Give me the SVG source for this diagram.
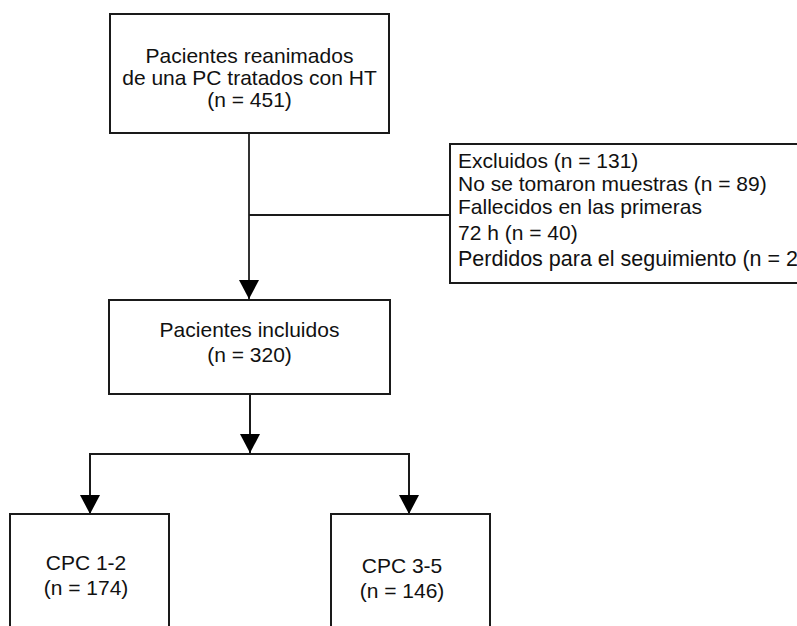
<svg xmlns="http://www.w3.org/2000/svg" width="797" height="626" viewBox="0 0 797 626">
<style>
.box{fill:#fff;stroke:#1a1a1a;stroke-width:2}
.ln{fill:none;stroke:#1a1a1a;stroke-width:2}
.t{font-family:"Liberation Sans",Arial,sans-serif;font-size:21px;fill:#111}
.c{text-anchor:middle}
</style>
<defs>
<marker id="ah" viewBox="0 0 19 20" refX="19" refY="10" markerWidth="19" markerHeight="20" markerUnits="userSpaceOnUse" orient="auto">
<path d="M0,0 L19,10 L0,20 Z" fill="#000"/>
</marker>
</defs>
<rect width="797" height="626" fill="#fff"/>
<g id="connectors">
<line class="ln" x1="249" y1="133" x2="249" y2="299" marker-end="url(#ah)" style="stroke:#333"/>
<line class="ln" x1="249" y1="215" x2="450" y2="215"/>
<line class="ln" x1="250" y1="394" x2="250" y2="453" marker-end="url(#ah)"/>
<polyline class="ln" points="90,514 90,454 409,454 409,514"/>
<line class="ln" x1="90" y1="454" x2="90" y2="514" marker-end="url(#ah)"/>
<line class="ln" x1="409" y1="454" x2="409" y2="514" marker-end="url(#ah)"/>
</g>
<g id="n_start">
<rect class="box" x="110" y="14" width="279" height="119"/>
<text class="t c" x="249.5" y="63">Pacientes reanimados</text>
<text class="t c" x="249.5" y="85">de una PC tratados con HT</text>
<text class="t c" x="249.5" y="107">(n = 451)</text>
</g>
<g id="n_excluded">
<rect class="box" x="450" y="144" width="360" height="139"/>
<text class="t" x="458" y="168">Excluidos (n = 131)</text>
<text class="t" x="458" y="191">No se tomaron muestras (n = 89)</text>
<text class="t" x="458" y="214">Fallecidos en las primeras</text>
<text class="t" x="458" y="240">72 h (n = 40)</text>
<text class="t" x="458" y="266" style="font-size:21.5px">Perdidos para el seguimiento (n = 2)</text>
</g>
<g id="n_included">
<rect class="box" x="109" y="300" width="281" height="94"/>
<text class="t c" x="249.5" y="337">Pacientes incluidos</text>
<text class="t c" x="249.5" y="362">(n = 320)</text>
</g>
<g id="n_cpc12">
<rect class="box" x="10" y="514" width="159" height="130"/>
<text class="t c" x="86" y="570">CPC 1-2</text>
<text class="t c" x="86" y="595">(n = 174)</text>
</g>
<g id="n_cpc35">
<rect class="box" x="331" y="514" width="159" height="130"/>
<text class="t c" x="402" y="573">CPC 3-5</text>
<text class="t c" x="402" y="598">(n = 146)</text>
</g>
</svg>
